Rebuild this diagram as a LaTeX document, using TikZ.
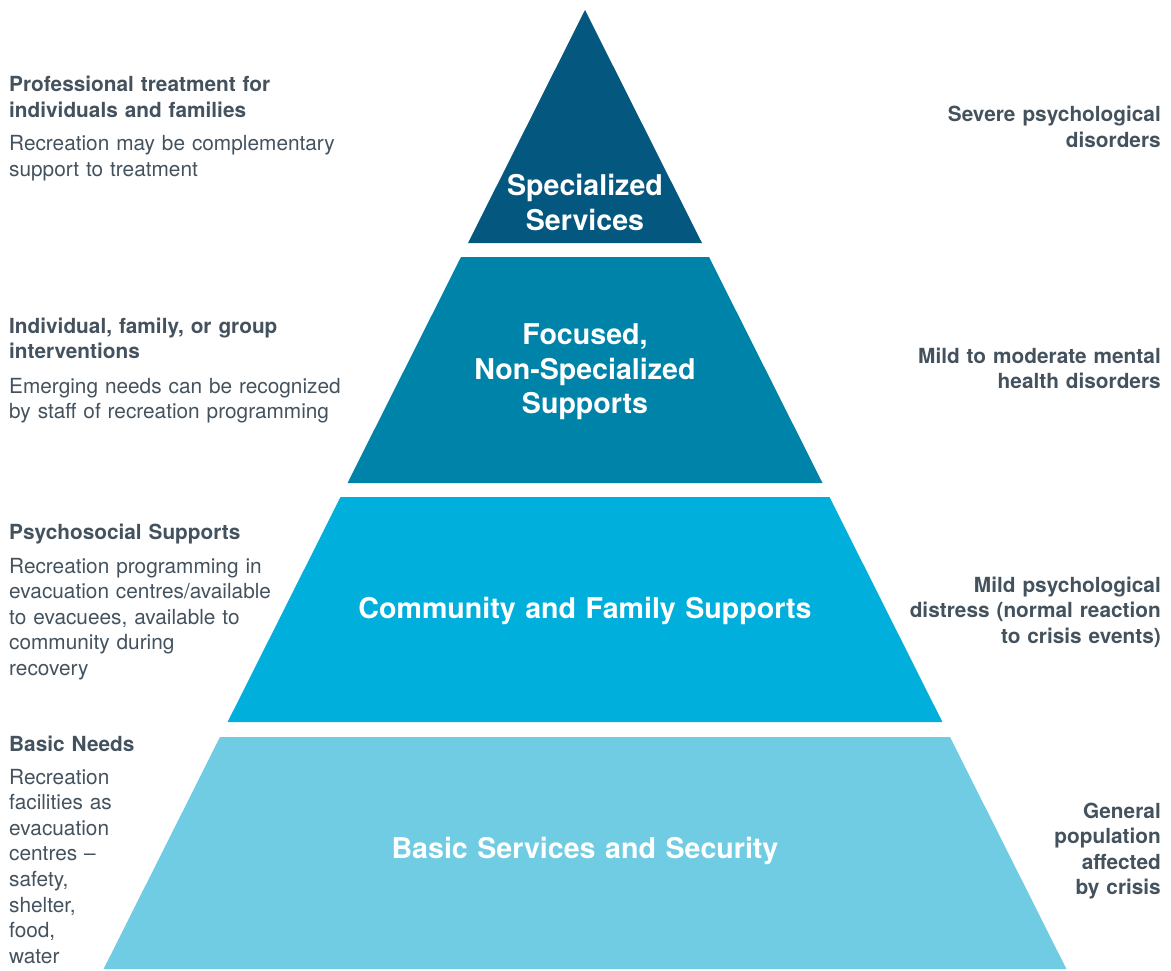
\documentclass[tikz,border=0pt]{standalone}
\usepackage{fontspec}
\setmainfont{TeX Gyre Heros}

\definecolor{slate}{HTML}{44525E}
\definecolor{tierA}{HTML}{04587F}
\definecolor{tierB}{HTML}{0083A9}
\definecolor{tierC}{HTML}{00AFDB}
\definecolor{tierD}{HTML}{70CCE3}

\tikzset{
    head/.style={text=slate, font=\bfseries\fontsize{20.8}{25.6}\selectfont, text width=360pt, align=left, inner sep=0pt, anchor=base west},
    body/.style={text=slate, font=\fontsize{20.8}{25.6}\selectfont, text width=360pt, align=left, inner sep=0pt, anchor=base west},
    need/.style={text=slate, font=\bfseries\fontsize{20.8}{25.6}\selectfont, text width=300pt, align=right, inner sep=0pt, anchor=base east},
    tier/.style={text=white, font=\bfseries\fontsize{28.6}{35}\selectfont, text width=560pt, align=center, inner sep=0pt, anchor=base}
}

\begin{document}
\begin{tikzpicture}[x=1pt, y=-1pt]
    \useasboundingbox (0, 0) rectangle (1171, 971);

    % pyramid, top to bottom
    \fill[tierA] (585, 10) -- (702, 243) -- (468, 243) -- cycle;
    \fill[tierB] (461, 257) -- (709, 257) -- (822.5, 483) -- (347.5, 483) -- cycle;
    \fill[tierC] (340.5, 497) -- (829.5, 497) -- (942.4, 722) -- (227.6, 722) -- cycle;
    \fill[tierD] (220, 737) -- (950, 737) -- (1066.4, 969) -- (103.6, 969) -- cycle;

    \node[tier] (SS) at (585, 196) {Specialized \\ Services};
    \node[tier] (FS) at (585, 344) {Focused, \\ Non-Specialized \\ Supports};
    \node[tier] (CF) at (585, 618) {Community and Family Supports};
    \node[tier] (BS) at (585, 858) {Basic Services and Security};

    % left column
    \node[head] (PT) at (9, 92) {Professional treatment for \\ individuals and families};
    \node[body] (PTd) at (9, 151) {Recreation may be complementary \\ support to treatment};

    \node[head] (IF) at (9, 333) {Individual, family, or group \\ interventions};
    \node[body] (IFd) at (9, 393) {Emerging needs can be recognized \\ by staff of recreation programming};

    \node[head] (PS) at (9, 539) {Psychosocial Supports};
    \node[body] (PSd) at (9, 573) {Recreation programming in \\ evacuation centres/available \\ to evacuees, available to \\ community during \\ recovery};

    \node[head] (BN) at (9, 751) {Basic Needs};
    \node[body] (BNd) at (9, 784) {Recreation \\ facilities as \\ evacuation \\ centres -- \\ safety, \\ shelter, \\ food, \\ water};

    % right column
    \node[need] (SP) at (1161, 122) {Severe psychological \\ disorders};
    \node[need] (MM) at (1161, 363) {Mild to moderate mental \\ health disorders};
    \node[need] (MP) at (1161, 592) {Mild psychological \\ distress (normal reaction \\ to crisis events)};
    \node[need] (GP) at (1161, 818) {General \\ population \\ affected \\ by crisis};
\end{tikzpicture}
\end{document}
